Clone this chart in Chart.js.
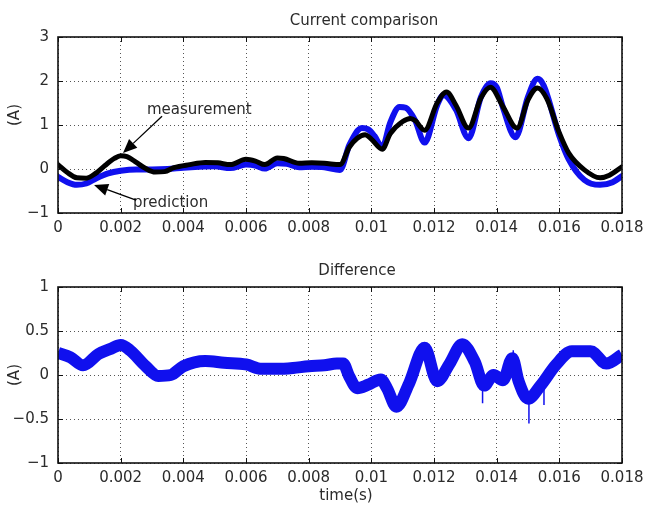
<!DOCTYPE html>
<html><head><meta charset="utf-8">
<script src="https://cdn.jsdelivr.net/npm/chart.js@4/dist/chart.umd.min.js"></script>
<style>
html,body{margin:0;padding:0;background:#fff;width:660px;height:505px;overflow:hidden}
canvas{position:absolute;left:0}
#c1{top:0}
#c2{top:250px}
</style></head><body>
<canvas id="c1" width="660" height="250"></canvas>
<canvas id="c2" width="660" height="255"></canvas>
<script>
// ---- data ----
const timeMeas = [0,0.0003,0.0006,0.0009,0.0012,0.0015,0.0018,0.0020,0.0022,0.0025,0.0028,0.0031,0.0034,0.0037,0.0042,0.0047,0.0051,0.0055,0.0060,0.0063,0.0066,0.0070,0.0072,0.0077,0.0081,0.0085,0.0090,0.0093,0.00955,0.0098,0.0100,0.01035,0.0106,0.0110,0.01125,0.0114,0.0117,0.0121,0.0124,0.0127,0.0131,0.0135,0.0138,0.0142,0.01465,0.0150,0.0153,0.0156,0.0160,0.0163,0.0168,0.0173,0.0176,0.0180];
const measurement = [0.1,-0.08,-0.2,-0.21,-0.1,0.08,0.24,0.3,0.28,0.15,0.01,-0.07,-0.06,0.03,0.1,0.15,0.14,0.1,0.22,0.18,0.1,0.25,0.24,0.13,0.14,0.13,0.1,0.5,0.7,0.78,0.68,0.45,0.8,1.08,1.15,1.1,0.88,1.5,1.75,1.45,0.93,1.62,1.86,1.42,0.93,1.57,1.84,1.6,0.82,0.36,-0.02,-0.2,-0.14,0.05];

const timePred = [0,0.0003,0.0006,0.0009,0.0012,0.0016,0.0020,0.0025,0.0030,0.0035,0.0040,0.0045,0.0050,0.0055,0.0060,0.0063,0.0066,0.0070,0.0073,0.0077,0.0081,0.0085,0.0090,0.0093,0.0097,0.0099,0.0101,0.01035,0.0106,0.0109,0.0111,0.0114,0.0117,0.0121,0.0123,0.0127,0.0131,0.0135,0.0138,0.0140,0.0142,0.0146,0.0150,0.0153,0.0155,0.0160,0.0163,0.0168,0.0173,0.0177,0.0180];
const prediction = [-0.18,-0.3,-0.36,-0.33,-0.22,-0.1,-0.04,-0.01,-0.01,0.0,0.03,0.05,0.06,0.02,0.1,0.08,0.01,0.13,0.12,0.04,0.05,0.04,-0.02,0.55,0.93,0.9,0.75,0.5,1.05,1.41,1.39,1.1,0.6,1.45,1.68,1.35,0.7,1.64,1.95,1.86,1.4,0.72,1.64,2.05,1.9,0.75,0.22,-0.25,-0.36,-0.3,-0.16];

const timeDiff = [0,0.0004,0.0008,0.0013,0.0017,0.0020,0.0023,0.0028,0.0032,0.0036,0.0040,0.0047,0.0053,0.0060,0.0065,0.0070,0.0075,0.0080,0.0085,0.0089,0.0091,0.0093,0.00955,0.0099,0.0103,0.0105,0.0108,0.0112,0.0117,0.0121,0.0125,0.0129,0.0133,0.0136,0.0139,0.0142,0.0145,0.0147,0.0150,0.0154,0.0159,0.0164,0.0170,0.0175,0.0180];
const difference = [0.25,0.2,0.11,0.24,0.3,0.34,0.28,0.1,-0.01,0.0,0.1,0.16,0.14,0.12,0.07,0.07,0.08,0.1,0.11,0.13,0.13,-0.02,-0.15,-0.11,-0.05,-0.15,-0.36,-0.1,0.31,-0.07,0.13,0.35,0.15,-0.12,0.0,-0.06,0.19,-0.07,-0.27,-0.12,0.12,0.27,0.27,0.13,0.23];

const spikeTime = [0.01355,0.01453,0.01503,0.01551];
const spikeBase = [-0.1,0.18,-0.25,-0.14];
const spikeTip  = [-0.32,0.28,-0.55,-0.34];

const xTickValues = [0,0.002,0.004,0.006,0.008,0.01,0.012,0.014,0.016,0.018];
const xTickLabels = ['0','0.002','0.004','0.006','0.008','0.01','0.012','0.014','0.016','0.018'];
const topYTickValues = [-1,0,1,2,3];
const topYTickLabels = ['\u22121','0','1','2','3'];
const botYTickValues = [-1,-0.5,0,0.5,1];
const botYTickLabels = ['\u22121','\u22120.5','0','0.5','1'];

// ---- styling ----
const FONT = "'DejaVu Sans', sans-serif";
const TXT = '#2b2b2b';
Chart.defaults.font.family = FONT;
Chart.defaults.font.size = 15;
Chart.defaults.color = TXT;

function pts(xs, ys){ return xs.map((x,i)=>({x:x,y:ys[i]})); }
function spikePts(){
  const out=[];
  spikeTime.forEach((t,i)=>{ out.push({x:t,y:spikeBase[i]}); out.push({x:t,y:spikeTip[i]}); out.push({x:t,y:null}); });
  return out;
}

function xScale(h){
  return {
    type:'linear', min:0, max:0.018,
    afterBuildTicks:s=>{ s.ticks = xTickValues.map(v=>({value:v})); },
    afterFit:s=>{ s.height = h; },
    grid:{color:'#555', lineWidth:1, drawTicks:false},
    border:{display:false, dash:[1,3]},
    ticks:{padding:6, color:TXT, font:{size:15, family:FONT}, maxRotation:0, autoSkip:false,
      callback:(v,i)=>xTickLabels[i]}
  };
}
function yScale(vals, labels){
  return {
    type:'linear', min:vals[0], max:vals[vals.length-1],
    afterBuildTicks:s=>{ s.ticks = vals.map(v=>({value:v})); },
    afterFit:s=>{ s.width = 58; },
    grid:{color:'#555', lineWidth:1, drawTicks:false},
    border:{display:false, dash:[1,3]},
    ticks:{padding:9, color:TXT, font:{size:15, family:FONT}, autoSkip:false,
      callback:(v,i)=>labels[i]}
  };
}

function framePlugin(cfg){
  return {
    id:'frame'+cfg.key,
    afterDraw(chart){
      const {ctx, chartArea:a, scales} = chart;
      const x = scales.x, y = scales.y;
      ctx.save();
      ctx.strokeStyle = '#111'; ctx.lineWidth = 1;
      const L = 5;
      ctx.beginPath();
      x.ticks.forEach(t=>{
        const px = Math.round(x.getPixelForValue(t.value)) + 0.5;
        ctx.moveTo(px, a.bottom); ctx.lineTo(px, a.bottom - L);
        ctx.moveTo(px, a.top); ctx.lineTo(px, a.top + L);
      });
      y.ticks.forEach(t=>{
        const py = Math.round(y.getPixelForValue(t.value)) + 0.5;
        ctx.moveTo(a.left, py); ctx.lineTo(a.left + L, py);
        ctx.moveTo(a.right, py); ctx.lineTo(a.right - L, py);
      });
      ctx.stroke();
      ctx.lineWidth = 1.6; ctx.strokeStyle = '#111';
      ctx.strokeRect(a.left, a.top, a.right - a.left, a.bottom - a.top);
      ctx.fillStyle = TXT;
      ctx.font = '15px ' + FONT;
      ctx.textAlign = 'center'; ctx.textBaseline = 'alphabetic';
      ctx.fillText(cfg.title, cfg.titleX, cfg.titleY);
      if (cfg.xTitle) ctx.fillText(cfg.xTitle, cfg.xTitleX, cfg.xTitleY);
      ctx.save();
      ctx.translate(cfg.yTitleX, cfg.yTitleY);
      ctx.rotate(-Math.PI/2);
      ctx.textBaseline = 'middle';
      ctx.fillText(cfg.yTitle, 0, 0);
      ctx.restore();
      (cfg.notes || []).forEach(n=>{
        ctx.textAlign = 'left'; ctx.textBaseline = 'alphabetic';
        ctx.fillStyle = TXT;
        ctx.fillText(n.text, x.getPixelForValue(n.tx), y.getPixelForValue(n.ty));
        const x0 = x.getPixelForValue(n.fromX), y0 = y.getPixelForValue(n.fromY);
        const x1 = x.getPixelForValue(n.toX), y1 = y.getPixelForValue(n.toY);
        const ang = Math.atan2(y1 - y0, x1 - x0);
        const HL = 14, HW = 6;
        const bx = x1 - HL*Math.cos(ang), by = y1 - HL*Math.sin(ang);
        ctx.strokeStyle = '#000'; ctx.lineWidth = 1.3;
        ctx.beginPath(); ctx.moveTo(x0, y0); ctx.lineTo(bx, by); ctx.stroke();
        ctx.fillStyle = '#000';
        ctx.beginPath();
        ctx.moveTo(x1, y1);
        ctx.lineTo(bx + HW*Math.sin(ang), by - HW*Math.cos(ang));
        ctx.lineTo(bx - HW*Math.sin(ang), by + HW*Math.cos(ang));
        ctx.closePath(); ctx.fill();
      });
      ctx.restore();
    }
  };
}

const common = {
  responsive:false, animation:false, devicePixelRatio:1,
  layout:{padding:{left:0, right:38, top:37, bottom:0}},
  plugins:{legend:{display:false}, tooltip:{enabled:false}, title:{display:false}},
  elements:{point:{radius:0}}
};

new Chart(document.getElementById('c1'), {
  type:'line',
  data:{datasets:[
    {label:'measurement', data:pts(timeMeas, measurement), borderColor:'#000', borderWidth:5, cubicInterpolationMode:'monotone', clip:0, borderJoinStyle:'round', borderCapStyle:'round'},
    {label:'prediction', data:pts(timePred, prediction), borderColor:'#1010ee', borderWidth:6, cubicInterpolationMode:'monotone', clip:0, borderJoinStyle:'round', borderCapStyle:'round'}
  ]},
  options:Object.assign({}, common, {
    scales:{x:xScale(37), y:yScale(topYTickValues, topYTickLabels)}
  }),
  plugins:[framePlugin({key:1, title:'Current comparison', titleX:364, titleY:25,
    yTitle:'(A)', yTitleX:15, yTitleY:115,
    notes:[
      {text:'measurement', tx:0.00284, ty:1.25, fromX:0.00332, fromY:1.2, toX:0.002075, toY:0.364},
      {text:'prediction', tx:0.00239, ty:-0.864, fromX:0.00249, fromY:-0.705, toX:0.00115, toY:-0.364}
    ]})]
});

new Chart(document.getElementById('c2'), {
  type:'line',
  data:{datasets:[
    {label:'difference', data:pts(timeDiff, difference), borderColor:'#1010ee', borderWidth:12, cubicInterpolationMode:'monotone', clip:0, borderJoinStyle:'round', borderCapStyle:'butt'},
    {label:'spikes', data:spikePts(), borderColor:'#1010ee', borderWidth:1.5, tension:0, spanGaps:false, clip:0}
  ]},
  options:Object.assign({}, common, {
    scales:{x:xScale(42), y:yScale(botYTickValues, botYTickLabels)}
  }),
  plugins:[framePlugin({key:2, title:'Difference', titleX:357, titleY:25,
    xTitle:'time(s)', xTitleX:346, xTitleY:250,
    yTitle:'(A)', yTitleX:15, yTitleY:125})]
});
</script>
</body></html>
